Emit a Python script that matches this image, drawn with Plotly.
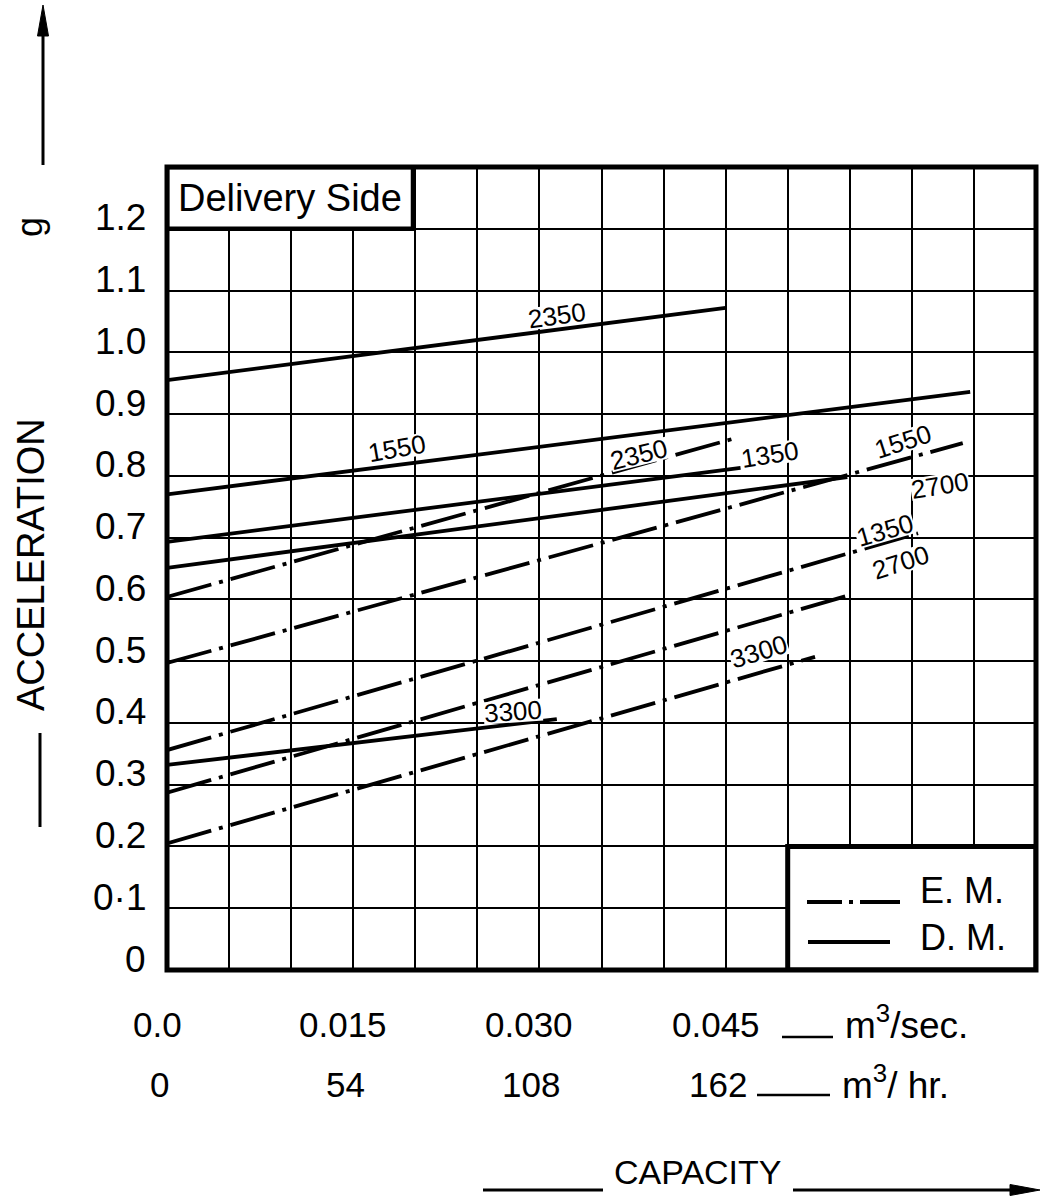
import plotly.graph_objects as go

# ---- data: capacity (m^3/s) vs acceleration (g), delivery side ----
x_tick_vals = [0.0, 0.015, 0.030, 0.045]
x_tick_sec = ["0.0", "0.015", "0.030", "0.045"]
x_tick_hr = ["0", "54", "108", "162"]

y_tick_vals = [0.0, 0.1, 0.2, 0.3, 0.4, 0.5, 0.6, 0.7, 0.8, 0.9, 1.0, 1.1, 1.2]
y_tick_text = ["0", "0·1", "0.2", "0.3", "0.4", "0.5", "0.6", "0.7", "0.8", "0.9", "1.0", "1.1", "1.2"]

# D.M. curves (solid), one per speed
dm_speed = ["2350", "1550", "1350", "2700", "3300"]
dm_x = [[0.0, 0.0450], [0.0, 0.0647], [0.0, 0.0462], [0.0, 0.0548], [0.0, 0.0314]]
dm_y = [[0.955, 1.072], [0.770, 0.936], [0.693, 0.813], [0.651, 0.798], [0.332, 0.406]]

# E.M. curves (dash-dot), one per speed
em_speed = ["2350", "1550", "1350", "2700", "3300"]
em_x = [[0.0, 0.0456], [0.0, 0.0641], [0.0, 0.0605], [0.0, 0.0550], [0.0, 0.0522]]
em_y = [[0.604, 0.860], [0.497, 0.853], [0.356, 0.707], [0.287, 0.607], [0.205, 0.507]]

# ---- label placement (x, y, angle) for each curve's speed tag ----
dm_label_place = [(0.0314, 1.059, -8), (0.0185, 0.845, -10), (0.0486, 0.834, -9),
                  (0.0623, 0.784, -9), (0.0279, 0.419, -4)]
em_label_place = [(0.0380, 0.834, -14), (0.0593, 0.856, -18), (0.0578, 0.712, -16),
                  (0.0591, 0.659, -18), (0.0477, 0.515, -17)]

W, H = 1041, 1201
PL, PR, PT, PB = 167, 1036, 167, 970
X_MAX, Y_MAX = 0.07, 1.3


def px_x(px):
    return (px - PL) / (PR - PL)


def px_y(py):
    return (PB - py) / (PB - PT)


def dx(px):
    return (px - PL) / (PR - PL) * X_MAX


def dy(py):
    return (PB - py) / (PB - PT) * Y_MAX


REG = "Liberation Sans, Arial, sans-serif"
DASHDOT = "46px,8px,4px,8px"
LW = 3.8

fig = go.Figure()

for xs, ys, name in zip(dm_x, dm_y, dm_speed):
    fig.add_trace(go.Scatter(x=xs, y=ys, mode="lines", name="D.M. " + name,
                             line=dict(color="black", width=LW), showlegend=False,
                             hoverinfo="skip"))
for xs, ys, name in zip(em_x, em_y, em_speed):
    fig.add_trace(go.Scatter(x=xs, y=ys, mode="lines", name="E.M. " + name,
                             line=dict(color="black", width=LW, dash=DASHDOT),
                             showlegend=False, hoverinfo="skip"))

ann = []


def text(x, y, t, size, xref="paper", yref="paper", xa="center", ya="middle", **kw):
    d = dict(x=x, y=y, xref=xref, yref=yref, text=t, showarrow=False,
             xanchor=xa, yanchor=ya, font=dict(family=REG, size=size, color="black"))
    d.update(kw)
    ann.append(d)


# speed tags on the curves
for (lx, ly, ang), t in zip(dm_label_place + em_label_place, dm_speed + em_speed):
    text(lx, ly, t, 26, xref="x", yref="y", textangle=ang,
         bgcolor="white", borderpad=0, height=21)

# y tick labels
for v, t in zip(y_tick_vals, y_tick_text):
    text(px_x(148), v, t, 37, yref="y", xa="right", yshift=11)

# x tick labels, two unit rows
for v, t1, t2 in zip(x_tick_vals, x_tick_sec, x_tick_hr):
    text(v, px_y(1024), t1, 35, xref="x", xshift=-10)
    text(v, px_y(1084), t2, 35, xref="x", xshift=-8)

text(px_x(843), px_y(1022), "m<sup>3</sup>/sec.", 37, xa="left")
text(px_x(840), px_y(1082), "m<sup>3</sup>/ hr.", 37, xa="left")

# axis titles
text(px_x(31), px_y(565), "ACCELERATION", 38, textangle=-90)
text(px_x(30), px_y(227), "g", 36, textangle=-90)
text(px_x(698), px_y(1172), "CAPACITY", 34)

# panel title and key
text(dx(290), dy(198), "Delivery Side", 38, xref="x", yref="y")
text(dx(918), dy(890), "E. M.", 36, xref="x", yref="y", xa="left")
text(dx(918), dy(937), "D. M.", 36, xref="x", yref="y", xa="left")

shapes = []
# title box and key box
shapes.append(dict(type="rect", xref="x", yref="y", x0=0, x1=dx(413), y0=1.2, y1=1.3,
                   fillcolor="white", line=dict(color="black", width=4.5), layer="above"))
shapes.append(dict(type="rect", xref="x", yref="y", x0=0.05, x1=X_MAX, y0=0, y1=0.2,
                   fillcolor="white", line=dict(color="black", width=5), layer="above"))
# key samples
shapes.append(dict(type="line", xref="x", yref="y", x0=dx(807), x1=dx(900), y0=dy(902), y1=dy(902),
                   line=dict(color="black", width=LW, dash="35px,7px,4px,7px,60px"), layer="above"))
shapes.append(dict(type="line", xref="x", yref="y", x0=dx(808), x1=dx(890), y0=dy(942), y1=dy(942),
                   line=dict(color="black", width=LW), layer="above"))
# plot frame
shapes.append(dict(type="rect", xref="paper", yref="paper", x0=0, x1=1, y0=0, y1=1,
                   line=dict(color="black", width=5), layer="above"))
# unit leaders
shapes.append(dict(type="line", xref="paper", yref="paper", x0=px_x(782), x1=px_x(833),
                   y0=px_y(1037), y1=px_y(1037), line=dict(color="black", width=2.5)))
shapes.append(dict(type="line", xref="paper", yref="paper", x0=px_x(757), x1=px_x(830),
                   y0=px_y(1095), y1=px_y(1095), line=dict(color="black", width=2.5)))
# vertical arrow (acceleration)
shapes.append(dict(type="line", xref="paper", yref="paper", x0=px_x(43), x1=px_x(43),
                   y0=px_y(165), y1=px_y(30), line=dict(color="black", width=3)))
shapes.append(dict(type="path", xref="paper", yref="paper",
                   path=f"M {px_x(43)},{px_y(5)} L {px_x(37.5)},{px_y(36)} L {px_x(48.5)},{px_y(36)} Z",
                   fillcolor="black", line=dict(color="black", width=1)))
shapes.append(dict(type="line", xref="paper", yref="paper", x0=px_x(40), x1=px_x(40),
                   y0=px_y(733), y1=px_y(827), line=dict(color="black", width=3)))
# horizontal arrow (capacity)
shapes.append(dict(type="line", xref="paper", yref="paper", x0=px_x(483), x1=px_x(603),
                   y0=px_y(1190), y1=px_y(1190), line=dict(color="black", width=3)))
shapes.append(dict(type="line", xref="paper", yref="paper", x0=px_x(793), x1=px_x(1015),
                   y0=px_y(1190), y1=px_y(1190), line=dict(color="black", width=3)))
shapes.append(dict(type="path", xref="paper", yref="paper",
                   path=f"M {px_x(1040)},{px_y(1190)} L {px_x(1010)},{px_y(1184.5)} L {px_x(1010)},{px_y(1195.5)} Z",
                   fillcolor="black", line=dict(color="black", width=1)))

fig.update_layout(
    width=W, height=H, autosize=False,
    margin=dict(l=PL, r=W - PR, t=PT, b=H - PB, pad=0),
    paper_bgcolor="white", plot_bgcolor="white",
    showlegend=False,
    annotations=ann, shapes=shapes,
    xaxis=dict(range=[0, X_MAX], dtick=0.005, tick0=0, showgrid=True, gridcolor="black",
               gridwidth=2.2, zeroline=False, showticklabels=False, ticks="",
               showline=False, fixedrange=True),
    yaxis=dict(range=[0, Y_MAX], dtick=0.1, tick0=0, showgrid=True, gridcolor="black",
               gridwidth=2.2, zeroline=False, showticklabels=False, ticks="",
               showline=False, fixedrange=True),
)

fig.write_html("out.html")
